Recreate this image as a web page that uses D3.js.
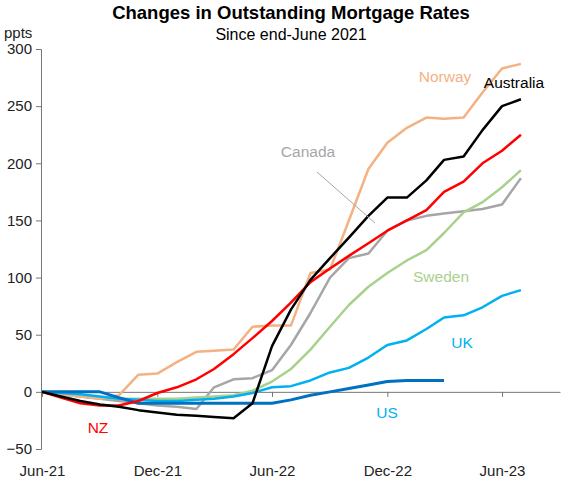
<!DOCTYPE html>
<html><head><meta charset="utf-8">
<script src="https://cdn.jsdelivr.net/npm/d3@7"></script>
<style>body{margin:0;background:#fff}text{font-family:"Liberation Sans",Arial,sans-serif}</style>
</head><body><svg id="c" width="581" height="479"></svg>
<script>
const months = d3.range(26).map(i => new Date(2021, 5 + i, 1));
const norway =    [0,-2,-4,-6,-3,15,16,26,35,36,37,57,58,58,104,107,150,195,218,231,240,239,240,262,283,287];
const australia = [0,-4,-8,-11,-13,-16,-18,-20,-21,-22,-23,-10,40,72,98,117,135,154,170,170,185,203,206,229,250,256];
const nz =        [0,-5,-10,-12,-12,-8,-1,4,11,20,33,47,62,78,96,108,119,130,141,150,159,175,184,200,211,225];
const canada =    [0,-2,-4,-6,-8,-10,-12,-13,-15,4,11,12,19,41,69,100,117,121,141,150,154,156,158,160,164,187];
const sweden =    [0,-2,-4,-5,-6,-6,-6,-6,-5,-4,-3,1,9,20,37,57,76,92,104,115,124,139,157,166,179,194];
const uk =        [0,-1,-2,-4,-6,-7,-8,-8,-7,-6,-4,-1,4,5,10,17,21,30,41,45,55,65,67,74,84,89];
const us =        [0,0,0,0,-5,-10,-10,-10,-10,-10,-10,-10,-10,-7,-3,0,3,6,9,10,10,10];
const yTicks = [-50,0,50,100,150,200,250,300];
const xTickLabels = ["Jun-21","Dec-21","Jun-22","Dec-22","Jun-23"];
const series = [
  {name:"Canada", v:canada, c:"#A6A6A6"},
  {name:"Sweden", v:sweden, c:"#A9D18E"},
  {name:"Norway", v:norway, c:"#F4B183"},
  {name:"UK", v:uk, c:"#00B0F0"},
  {name:"US", v:us, c:"#0070C0"},
  {name:"NZ", v:nz, c:"#FF0000"},
  {name:"Australia", v:australia, c:"#000000"}
];
const svg = d3.select("#c");
const x = d3.scaleTime().domain([new Date(2021,5,1), new Date(2023,8,1)]).range([42,560]);
const y = d3.scaleLinear().domain([-50,300]).range([449,49]);
svg.append("text").attr("x",291).attr("y",19).attr("text-anchor","middle").attr("font-weight","bold").attr("font-size",18.5).text("Changes in Outstanding Mortgage Rates");
svg.append("text").attr("x",291).attr("y",40).attr("text-anchor","middle").attr("font-size",16).text("Since end-June 2021");
svg.append("text").attr("x",4).attr("y",38).attr("font-size",15).attr("fill","#222").text("ppts");
const ya = svg.append("g").attr("transform","translate(41,0)").call(d3.axisLeft(y).tickValues(yTicks).tickSize(5).tickPadding(4));
ya.selectAll("text").attr("font-size",15).attr("fill","#222").attr("font-family","Liberation Sans, Arial");
ya.selectAll("path,line").attr("stroke","#777");
const xt = xTickLabels.map((l,i)=>new Date(2021,5+6*i,1));
const xa = svg.append("g").attr("transform",`translate(0,${y(0)})`).call(d3.axisBottom(x).tickValues(xt).tickFormat((d,i)=>xTickLabels[i]).tickSize(5).tickSizeOuter(0));
xa.selectAll("path,line").attr("stroke","#777");
xa.selectAll("text").attr("font-size",15).attr("fill","#222").attr("font-family","Liberation Sans, Arial").attr("transform",`translate(0,${y(-50)-y(0)+8})`);
const line = d3.line().x((d,i)=>x(months[i])).y(d=>y(d));
series.forEach(s=>svg.append("path").attr("d",line(s.v)).attr("fill","none").attr("stroke",s.c).attr("stroke-width",s.name==="US"?3:2.5).attr("stroke-linejoin","round"));
const labels = [["Norway",445,82,"#F4B183"],["Australia",514,88,"#000"],["Canada",308,157,"#A6A6A6"],["Sweden",441,282,"#A9D18E"],["UK",462,348,"#00B0F0"],["US",387,418,"#00B0F0"],["NZ",98,433,"#FF0000"]];
labels.forEach(l=>svg.append("text").attr("x",l[1]).attr("y",l[2]).attr("text-anchor","middle").attr("font-size",15.5).attr("fill",l[3]).text(l[0]));
svg.append("line").attr("x1",317).attr("y1",172).attr("x2",375).attr("y2",223).attr("stroke","#A6A6A6").attr("stroke-width",1);
</script></body></html>
